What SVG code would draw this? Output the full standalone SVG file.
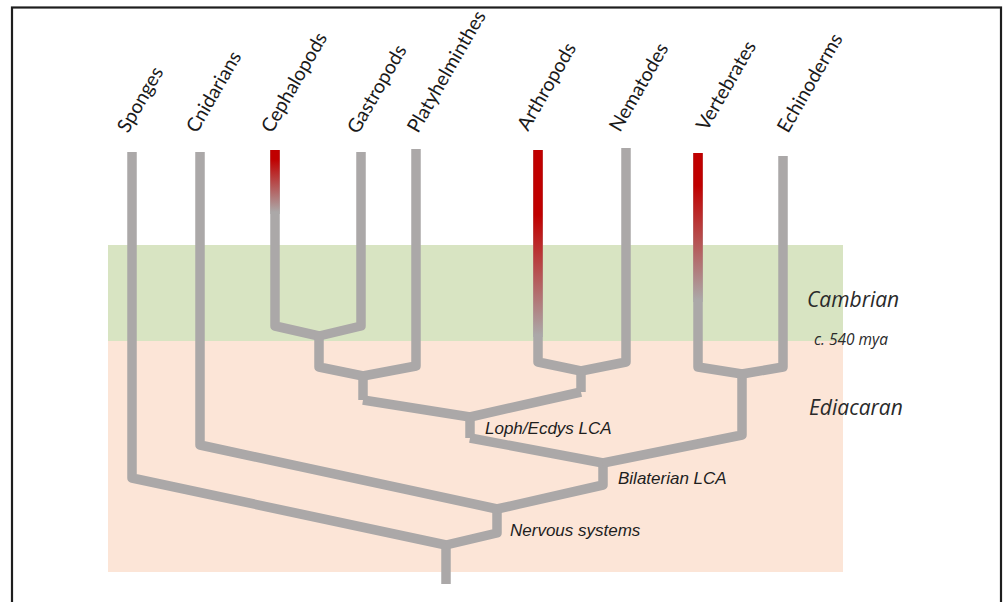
<svg xmlns="http://www.w3.org/2000/svg" width="1003" height="602" viewBox="0 0 1003 602">
  <defs>
    <style>
      .branch { fill: none; stroke: #ABA8A8; stroke-width: 9.5; stroke-linejoin: round; stroke-linecap: butt; }
      .tip { font-family: Lato, "Open Sans", sans-serif; font-size: 19.5px; fill: #1a1a1a; }
      .node-label { font-family: "Liberation Sans", Arial, sans-serif; font-style: italic; font-size: 17px; fill: #1e1e1e; }
      .period { font-family: "Open Sans", Lato, sans-serif; font-style: italic; font-size: 21px; fill: #2a2a2a; }
      .date { font-family: "Open Sans", Lato, sans-serif; font-style: italic; font-size: 15.5px; fill: #2a2a2a; }
    </style>
    <linearGradient id="gCeph" gradientUnits="userSpaceOnUse" x1="0" y1="150" x2="0" y2="212">
      <stop offset="0" stop-color="#C00000"/>
      <stop offset="0.15" stop-color="#C00000"/>
      <stop offset="1" stop-color="#ABA8A8"/>
    </linearGradient>
    <linearGradient id="gArth" gradientUnits="userSpaceOnUse" x1="0" y1="150" x2="0" y2="335">
      <stop offset="0" stop-color="#C00000"/>
      <stop offset="0.35" stop-color="#C00000"/>
      <stop offset="1" stop-color="#ABA8A8"/>
    </linearGradient>
    <linearGradient id="gVert" gradientUnits="userSpaceOnUse" x1="0" y1="153" x2="0" y2="300">
      <stop offset="0" stop-color="#C00000"/>
      <stop offset="0.22" stop-color="#C00000"/>
      <stop offset="1" stop-color="#ABA8A8"/>
    </linearGradient>
  </defs>

  <rect x="0" y="0" width="1003" height="602" fill="#ffffff"/>
  <rect x="12" y="7.5" width="989" height="620" fill="none" stroke="#1e1e1e" stroke-width="2.2"/>

  <g id="periods">
    <rect x="108" y="245" width="735" height="96" fill="#D8E4C2"/>
    <rect x="108" y="341" width="735" height="231" fill="#FCE5D7"/>
    <text class="period" x="807" y="307">Cambrian</text>
    <text class="date" x="814" y="345">c. 540 mya</text>
    <text class="period" x="809" y="415">Ediacaran</text>
  </g>

  <g id="connectors">
    <path class="branch" d="M132,152 V478 L446,545"/>
    <path class="branch" d="M446,543 V584"/>
    <path class="branch" d="M200,152 V445 L497,509"/>
    <path class="branch" d="M497,509 V533 L446,545"/>
    <path class="branch" d="M603,462 V485 L497,509"/>
    <path class="branch" d="M470,438 L603,463"/>
    <path class="branch" d="M742,374 V435 L603,463"/>
    <path class="branch" d="M470,417 V438"/>
    <path class="branch" d="M363,400 L470,417"/>
    <path class="branch" d="M581,392 L470,417"/>
    <path class="branch" d="M538,150 V362 L581,371 L626,362 V148"/>
    <path class="branch" d="M581,371 V392"/>
    <path class="branch" d="M698,153 V367 L742,374 L783,367 V156"/>
    <path class="branch" d="M275,150 V326 L319,336 L361,326 V152"/>
    <path class="branch" d="M319,336 V367 L363,376 L416,366 V149"/>
    <path class="branch" d="M363,376 V400"/>
    <rect x="270.25" y="150" width="9.5" height="64" fill="url(#gCeph)"/>
    <rect x="533.25" y="150" width="9.5" height="187" fill="url(#gArth)"/>
    <rect x="693.25" y="153" width="9.5" height="149" fill="url(#gVert)"/>
  </g>

  <g id="sponges"><text class="tip" transform="translate(128,134) rotate(-60)">Sponges</text></g>
  <g id="cnidarians"><text class="tip" transform="translate(197,134) rotate(-60)">Cnidarians</text></g>
  <g id="cephalopods"><text class="tip" transform="translate(272,134) rotate(-60)">Cephalopods</text></g>
  <g id="gastropods"><text class="tip" transform="translate(358,135) rotate(-60)">Gastropods</text></g>
  <g id="platyhelminthes"><text class="tip" transform="translate(418,134) rotate(-60)">Platyhelminthes</text></g>
  <g id="arthropods"><text class="tip" transform="translate(528,132) rotate(-60)">Arthropods</text></g>
  <g id="nematodes"><text class="tip" transform="translate(620,133) rotate(-60)">Nematodes</text></g>
  <g id="vertebrates"><text class="tip" transform="translate(707,132) rotate(-60)">Vertebrates</text></g>
  <g id="echinoderms"><text class="tip" transform="translate(788,134) rotate(-60)">Echinoderms</text></g>

  <g id="loph-ecdys-lca"><text class="node-label" x="485" y="434">Loph/Ecdys LCA</text></g>
  <g id="bilaterian-lca"><text class="node-label" x="618" y="484">Bilaterian LCA</text></g>
  <g id="nervous-systems"><text class="node-label" x="510" y="536">Nervous systems</text></g>
</svg>
